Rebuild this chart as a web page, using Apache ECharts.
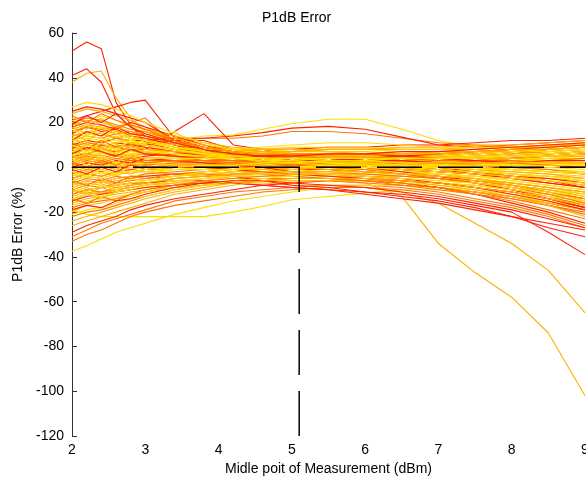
<!DOCTYPE html>
<html>
<head>
<meta charset="utf-8">
<script src="https://cdn.jsdelivr.net/npm/echarts@6/dist/echarts.min.js"></script>
<style>
html, body { margin: 0; padding: 0; background: #fff; }
#chart { width: 586px; height: 480px; }
</style>
</head>
<body>
<div id="chart"></div>
<script>
// x positions shared by every curve (dBm)
var xValues = [2, 2.2, 2.4, 2.6, 2.8, 3, 3.4, 3.8, 4.2, 4.6, 5, 5.5, 6, 6.5, 7, 7.5, 8, 8.5, 9];

// error curves (%), grouped by colour
var redCurves = [
  [52, 56, 53, 29, 19, 11, 8, 6, 4, 3, 2, 2, 1, 1, 2, 3, 4, 5, 6],
  [41, 44, 38, 24, 18, 14, 10, 6, 4, 3, 2, 1, 0, -1, -2, -3, -5, -7, -9],
  [21, 23, 25, 27, 29, 30, 13, 9, 6, 4, 3, 2, 1, 0, -1, -3, -5, -7, -9],
  [9, 8, 10, 9, 8, 8, 16, 24, 10, 8, 6, 5, 4, 3, 3, 4, 5, 6, 7],
  [5, 6, 8, 7, 9, 10, 12, 12, 8, 6, 5, 4, 3, 2, 2, 3, 4, 5, 6],
  [10, 12, 11, 13, 12, 12, 13, 13, 14, 15.5, 17.5, 18.3, 17, 13.5, 10, 9, 10, 11, 12],
  [-8, -6, -7, -5, -4, -4, -3, -3, -4, -6, -8, -9, -11, -12, -14, -17, -20, -29, -39],
  [-12, -10, -9, -8, -7, -7, -6, -6, -7, -8, -9, -10, -11, -13, -15, -18, -22, -27, -31],
  [2, 4, 3, 5, 4, 5, 6, 6, 7, 8, 8, 9, 9, 10, 10, 11, 12, 12, 13],
  [15, 18, 16, 17, 14, 13, 10, 8, 6, 5, 4, 3, 2, 1, 0, -2, -4, -6, -9],
  [-5, -3, -4, -2, -1, 0, 1, 1, 1, 0, -1, -1, -2, -3, -4, -6, -8, -11, -14],
  [18, 20, 19, 17, 20, 18, 14, 10, 7, 5, 3, 1, 0, -2, -4, -7, -10, -14, -18],
  [-29, -26, -24, -22, -19, -17, -14, -12, -10, -8, -7, -6, -6, -7, -9, -12, -16, -20, -25],
  [-15, -13, -12, -11, -10, -9, -8, -7, -7, -8, -9, -10, -12, -14, -16, -19, -22, -25, -28],
  [8, 10, 9, 11, 10, 9, 7, 5, 4, 3, 3, 3, 4, 5, 6, 7, 8, 9, 10],
  [25, 27, 26, 24, 22, 20, 12, 8, 5, 3, 2, 1, 0, -1, -2, -3, -4, -5, -7],
  [0, 2, 1, 3, 2, 4, 3, 2, 1, 0, -2, -3, -4, -5, -7, -9, -12, -15, -19],
  [12, 16, 14, 18, 15, 14, 11, 9, 7, 6, 5, 4, 3, 3, 2, 2, 2, 3, 3],
  [-1, -3, 0, -2, 1, -1, 0, 0, -1, -2, -3, -4, -5, -6, -7, -9, -11, -14, -18],
  [6, 9, 7, 5, 8, 6, 5, 4, 4, 5, 6, 6, 6, 5, 4, 3, 2, 1, 0],
  [19, 23, 20, 24, 18, 15, 11, 8, 6, 5, 5, 6, 6, 7, 7, 8, 9, 10, 11],
  [-19, -17, -18, -15, -14, -12, -9, -7, -6, -6, -7, -8, -9, -11, -13, -16, -19, -23, -27]
];

var orangeCurves = [
  [14, 15, 17, 18, 20, 22, 10, 7, 5, 4, 3, 2, 2, 1, 1, 0, -1, -2, -3],
  [6, 8, 7, 9, 10, 11, 12, 13, 13, 14, 16, 16, 15, 13, 11, 10, 9, 9, 10],
  [-31, -28, -25, -23, -21, -19, -15, -13, -11, -10, -9, -8, -8, -9, -11, -14, -17, -21, -26],
  [-33, -30, -28, -25, -22, -20, -17, -15, -13, -11, -10, -9, -9, -10, -12, -15, -18, -22, -27],
  [12, 14, 13, 15, 13, 12, 9, 7, 5, 4, 4, 3, 3, 3, 4, 5, 6, 7, 8],
  [-10, -8, -9, -7, -6, -5, -4, -3, -2, -2, -3, -4, -5, -7, -9, -11, -14, -17, -21],
  [3, 5, 4, 6, 5, 6, 5, 4, 3, 2, 1, 0, -1, -2, -3, -4, -5, -6, -8],
  [20, 22, 21, 19, 17, 16, 12, 9, 6, 4, 3, 2, 2, 3, 4, 5, 6, 8, 9],
  [-18, -16, -15, -14, -12, -11, -9, -8, -7, -6, -6, -6, -7, -8, -9, -11, -13, -16, -19],
  [-3, -1, -2, 0, 1, 1, 2, 2, 2, 1, 0, 0, 1, 2, 3, 4, 5, 6, 7],
  [9, 11, 10, 9, 8, 7, 5, 3, 2, 1, 0, -1, -2, -3, -5, -7, -10, -13, -17],
  [-7, -5, -6, -4, -5, -3, -2, -1, 0, 0, 0, 1, 1, 1, 2, 2, 3, 3, 4],
  [16, 18, 17, 15, 16, 14, 11, 8, 6, 5, 4, 4, 4, 5, 5, 6, 7, 8, 9],
  [-22, -20, -19, -17, -15, -13, -10, -8, -6, -5, -5, -5, -6, -7, -9, -12, -15, -19, -23],
  [1, 3, 2, 4, 3, 3, 3, 3, 3, 3, 2, 2, 1, 0, -1, -2, -4, -6, -8],
  [-12, -10, -11, -9, -8, -7, -5, -4, -3, -3, -4, -5, -6, -8, -10, -12, -14, -17, -20],
  [11, 8, 12, 9, 11, 10, 8, 7, 6, 5, 5, 4, 4, 3, 2, 1, 0, -1, -3],
  [-6, -8, -5, -7, -4, -5, -3, -2, -1, 0, 1, 2, 3, 4, 5, 6, 7, 8, 9],
  [23, 20, 24, 21, 19, 17, 12, 9, 7, 6, 5, 4, 4, 4, 3, 3, 3, 2, 2],
  [2, 0, 3, 1, 4, 2, 3, 3, 3, 2, 1, 0, -1, -3, -5, -7, -9, -12, -16],
  [-14, -16, -13, -15, -12, -10, -8, -6, -5, -4, -3, -3, -3, -4, -5, -7, -9, -11, -14]
];

var amberCurves = [
  [38, 42, 43, 31, 22, 16, 11, 7, 5, 4, 3, 2, 1, 0, -1, -2, -3, -4, -5],
  [-6, -4, -5, -3, -2, -2, -3, -4, -5, -5, -6, -6, -7, -13, -34, -47, -58, -74, -102],
  [-14, -12, -11, -10, -9, -8, -7, -7, -7, -7, -8, -8, -9, -11, -16, -25, -34, -46, -65],
  [24, 26, 25, 23, 21, 18, 12, 8, 5, 3, 2, 1, 0, -1, -2, -3, -4, -5, -6],
  [10, 12, 11, 13, 15, 14, 11, 8, 6, 5, 5, 5, 5, 5, 6, 7, 8, 9, 11],
  [-9, -7, -8, -6, -5, -4, -3, -2, -1, -1, -1, -1, -2, -3, -4, -5, -7, -9, -11],
  [4, 6, 5, 7, 8, 7, 6, 5, 4, 4, 4, 4, 3, 2, 1, 0, -1, -2, -3],
  [-16, -14, -13, -12, -11, -10, -8, -7, -6, -5, -5, -5, -5, -6, -7, -8, -10, -12, -14],
  [14, 16, 15, 13, 14, 12, 9, 7, 6, 6, 7, 8, 8, 8, 8, 9, 9, 10, 10],
  [-2, 0, -1, 1, 2, 2, 3, 4, 4, 4, 4, 3, 2, 1, 0, -1, -2, -3, -5],
  [7, 9, 8, 10, 9, 8, 7, 6, 5, 4, 3, 2, 1, -1, -3, -5, -8, -11, -15],
  [-13, -11, -12, -10, -9, -8, -6, -5, -4, -4, -4, -5, -6, -7, -9, -11, -13, -16, -19],
  [19, 21, 20, 18, 19, 17, 14, 11, 9, 8, 8, 7, 6, 5, 4, 4, 4, 5, 5],
  [-24, -22, -20, -18, -16, -14, -11, -9, -7, -6, -5, -4, -4, -4, -5, -6, -7, -9, -11],
  [2, 4, 3, 5, 4, 4, 4, 4, 4, 5, 5, 5, 5, 6, 6, 7, 7, 8, 9],
  [17, 19, 18, 16, 15, 16, 13, 10, 8, 7, 6, 5, 4, 3, 2, 1, 0, -1, -2],
  [-5, -3, -4, -2, -3, -1, 0, 0, 0, -1, -2, -3, -4, -6, -8, -10, -13, -17, -22],
  [8, 5, 9, 6, 10, 8, 7, 6, 6, 7, 7, 8, 8, 9, 9, 10, 10, 11, 12],
  [-10, -12, -9, -11, -8, -7, -5, -4, -3, -2, -2, -2, -3, -4, -5, -6, -8, -10, -13],
  [20, 17, 21, 18, 16, 15, 11, 9, 7, 6, 6, 6, 6, 6, 7, 7, 8, 8, 9],
  [0, -2, 1, -1, 2, 0, 1, 1, 1, 1, 0, -1, -2, -3, -4, -5, -7, -9, -11],
  [-26, -24, -22, -20, -18, -16, -12, -10, -8, -6, -5, -5, -5, -6, -7, -9, -11, -14, -17]
];

var goldCurves = [
  [15, 12, 16, 13, 11, 12, 9, 8, 7, 6, 6, 5, 5, 4, 4, 4, 5, 5, 6],
  [-11, -9, -12, -8, -7, -8, -5, -4, -2, -1, 0, 1, 1, 1, 0, -1, -2, -3, -4],
  [5, 3, 6, 8, 5, 4, 5, 4, 3, 3, 4, 4, 5, 5, 6, 6, 7, 8, 9],
  [21, 18, 22, 17, 15, 14, 10, 8, 6, 5, 4, 4, 3, 3, 3, 3, 3, 4, 4],
  [-3, -5, -2, -4, -1, -2, 0, 1, 2, 2, 3, 3, 3, 3, 2, 2, 1, 1, 0],
  [9, 12, 8, 10, 13, 9, 8, 7, 6, 6, 6, 6, 6, 5, 5, 4, 4, 3, 2],
  [-20, -17, -16, -14, -13, -11, -8, -6, -4, -3, -2, -2, -2, -3, -4, -6, -8, -10, -13],
  [1, -1, 2, 0, 3, 1, 2, 2, 2, 2, 2, 2, 3, 3, 4, 5, 6, 6, 7],
  [13, 10, 12, 14, 11, 10, 8, 6, 5, 4, 3, 3, 2, 1, 0, -1, -3, -5, -7],
  [-7, -9, -6, -8, -5, -6, -4, -3, -3, -3, -3, -4, -4, -5, -6, -7, -8, -10, -12],
  [18, 15, 19, 16, 14, 12, 10, 9, 8, 8, 9, 9, 9, 8, 8, 8, 9, 9, 10],
  [3, 6, 4, 2, 5, 3, 3, 2, 1, 0, -1, -2, -2, -3, -4, -5, -7, -9, -12],
  [-15, -12, -14, -11, -10, -9, -7, -5, -3, -2, -1, 0, 0, -1, -1, -2, -3, -4, -5],
  [7, 4, 7, 9, 6, 6, 5, 5, 5, 6, 7, 7, 7, 6, 5, 4, 3, 2, 1]
];

var yellowCurves = [
  [13, 15, 14, 16, 15, 13, 12, 14, 14.5, 17, 19.5, 21.5, 21.5, 17, 12, 9, 9, 10, 11],
  [-19, -21, -22, -22, -22, -22, -22, -22, -20, -17.5, -14.5, -13, -11.5, -10, -10, -11, -13, -15, -18],
  [-37.5, -35, -32, -29, -27, -25, -21, -18, -15, -13, -11, -9, -8, -8, -9, -10, -12, -14, -16],
  [6, 8, 7, 9, 11, 12, 16, 7, 5, 4, 3, 3, 3, 3, 3, 3, 4, 4, 5],
  [22, 20, 23, 21, 18, 17, 13, 10, 7, 5, 4, 3, 2, 2, 2, 2, 3, 3, 4],
  [0, 2, 1, 3, 4, 4, 4, 3, 3, 2, 2, 1, 1, 1, 1, 1, 1, 2, 2],
  [-8, -6, -7, -5, -4, -3, -1, 0, 1, 2, 2, 2, 2, 2, 1, 0, -1, -2, -3],
  [11, 13, 12, 11, 10, 9, 8, 7, 7, 7, 8, 8, 8, 7, 7, 7, 8, 8, 9],
  [-12, -10, -9, -8, -7, -6, -4, -3, -2, -1, -1, -1, -1, -2, -3, -4, -6, -8, -10],
  [5, 7, 6, 8, 7, 7, 6, 5, 5, 5, 5, 6, 6, 6, 6, 6, 7, 7, 8],
  [-4, -2, -3, -1, 0, 0, 1, 1, 1, 1, 1, 0, -1, -2, -3, -4, -6, -8, -10],
  [16, 18, 17, 15, 13, 12, 9, 7, 6, 5, 5, 4, 4, 4, 4, 3, 3, 3, 3],
  [-17, -15, -14, -13, -12, -11, -9, -8, -7, -6, -6, -6, -6, -7, -8, -9, -11, -13, -15],
  [2, 4, 3, 5, 6, 7, 7, 7, 7, 7, 6, 6, 5, 4, 3, 2, 1, 0, -1],
  [-1, 1, 0, 2, 1, 2, 1, 0, -1, -2, -3, -4, -5, -6, -7, -8, -10, -12, -14],
  [8, 10, 9, 11, 12, 11, 9, 8, 8, 9, 10, 11, 11, 10, 9, 9, 9, 10, 11],
  [-21, -19, -18, -16, -14, -13, -10, -8, -6, -5, -4, -3, -3, -3, -3, -4, -5, -6, -7],
  [27, 29, 28, 26, 23, 20, 15, 11, 8, 6, 5, 4, 4, 4, 5, 6, 7, 8, 9],
  [-6, -4, -5, -3, -2, -2, -1, -1, -1, 0, 0, 0, 0, 0, 0, -1, -1, -2, -2],
  [12, 14, 13, 12, 11, 10, 8, 6, 4, 3, 2, 1, 0, -1, -2, -3, -4, -6, -8],
  [10, 7, 11, 8, 12, 10, 8, 6, 5, 4, 4, 3, 3, 2, 2, 2, 2, 2, 2],
  [-9, -11, -8, -10, -7, -6, -4, -2, -1, 0, 0, 1, 1, 1, 0, 0, -1, -2, -3],
  [4, 1, 5, 2, 6, 4, 4, 4, 4, 4, 4, 4, 4, 4, 4, 4, 5, 5, 6],
  [17, 14, 18, 15, 13, 12, 9, 7, 5, 4, 3, 2, 1, 0, -1, -2, -3, -4, -6],
  [-14, -12, -13, -11, -10, -8, -6, -5, -4, -3, -3, -3, -4, -5, -6, -7, -9, -11, -13],
  [7, 10, 8, 6, 9, 7, 6, 5, 4, 3, 3, 2, 2, 1, 1, 1, 1, 1, 1],
  [-2, -4, -1, -3, 0, -1, 0, 1, 1, 2, 2, 3, 3, 4, 4, 5, 5, 6, 7]
];

// reference lines
var zeroLevel = 0;
var markerX = 5.1;
var xMin = 2, xMax = 9;
var yMin = -120, yMax = 60;

var groups = [
  { curves: redCurves, color: '#ff2000' },
  { curves: orangeCurves, color: '#ff7400' },
  { curves: amberCurves, color: '#ffae00' },
  { curves: goldCurves, color: '#ffc800' },
  { curves: yellowCurves, color: '#ffdf00' }
];

var fontFamily = '"Liberation Sans", Arial, sans-serif';
var series = [];
var maxLen = 0;
groups.forEach(function (g) { maxLen = Math.max(maxLen, g.curves.length); });

// interleave colours so no group hides the others
for (var i = 0; i < maxLen; i++) {
  groups.forEach(function (g) {
    var c = g.curves[i];
    if (!c) return;
    series.push({
      type: 'line',
      data: xValues.map(function (x, k) { return [x, c[k]]; }),
      showSymbol: false,
      silent: true,
      lineStyle: { color: g.color, width: 1.1 },
      z: 2
    });
  });
}

series.push({
  type: 'line',
  data: [[xMin, zeroLevel], [xMax, zeroLevel]],
  showSymbol: false,
  silent: true,
  lineStyle: { color: '#000', width: 1.5, type: [45, 16] },
  z: 5
});
series.push({
  type: 'line',
  data: [[markerX, yMin], [markerX, zeroLevel]],
  showSymbol: false,
  silent: true,
  lineStyle: { color: '#000', width: 1.5, type: [45, 16] },
  z: 5
});

var myChart = echarts.init(document.getElementById('chart'));
var option = {
  animation: false,
  backgroundColor: '#fff',
  title: {
    text: 'P1dB Error',
    left: 257,
    top: 6,
    textStyle: { fontFamily: fontFamily, fontSize: 14, fontWeight: 'normal', color: '#000' }
  },
  grid: { left: 72, right: 1, top: 33, bottom: 44, outerBoundsMode: 'none' },
  xAxis: {
    type: 'value',
    min: xMin,
    max: xMax,
    interval: 1,
    name: 'Midle poit of Measurement (dBm)',
    nameLocation: 'middle',
    nameGap: 24,
    nameTextStyle: { fontFamily: fontFamily, fontSize: 14, color: '#000' },
    axisLine: { lineStyle: { color: '#333', width: 1 } },
    axisTick: { inside: true, length: 5, lineStyle: { color: '#333' } },
    axisLabel: { fontFamily: fontFamily, fontSize: 14, color: '#000', margin: 7 },
    splitLine: { show: false }
  },
  yAxis: {
    type: 'value',
    min: yMin,
    max: yMax,
    interval: 20,
    name: 'P1dB Error (%)',
    nameLocation: 'middle',
    nameGap: 47,
    nameTextStyle: { fontFamily: fontFamily, fontSize: 14, color: '#000' },
    axisLine: { show: true, lineStyle: { color: '#333', width: 1 } },
    axisTick: { show: true, inside: true, length: 5, lineStyle: { color: '#333' } },
    axisLabel: { fontFamily: fontFamily, fontSize: 14, color: '#000', margin: 8 },
    splitLine: { show: false }
  },
  series: series
};
myChart.setOption(option);
</script>
</body>
</html>
